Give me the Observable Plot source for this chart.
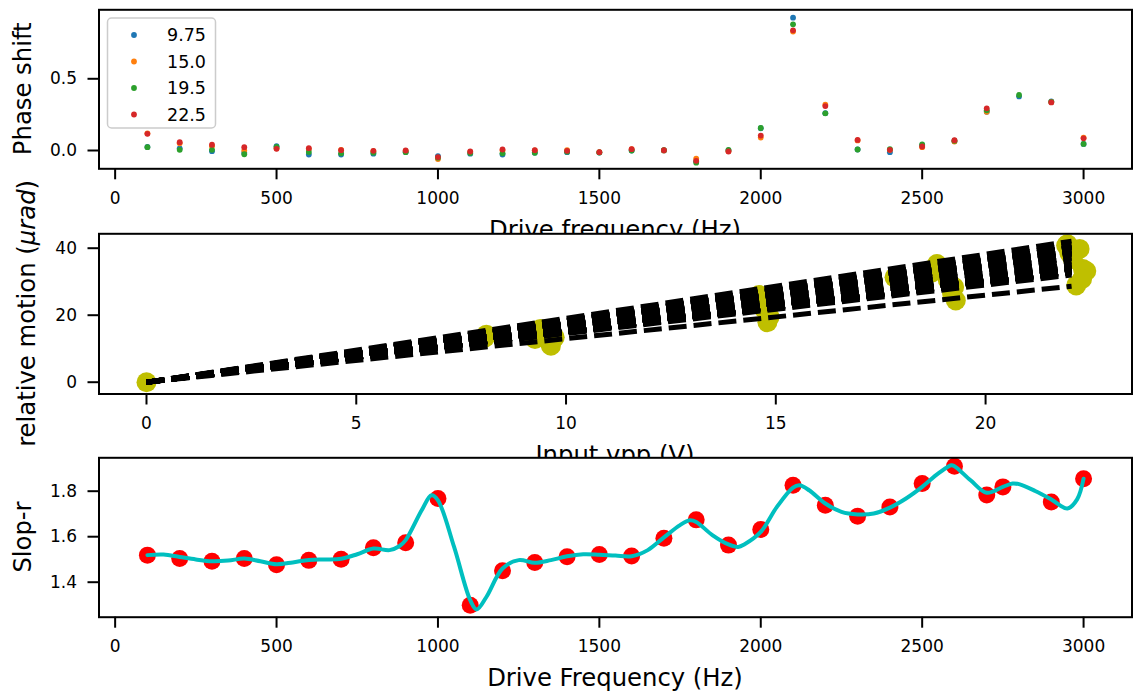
<!DOCTYPE html>
<html><head><meta charset="utf-8">
<script src="https://cdn.jsdelivr.net/npm/d3@7"></script>
<script src="https://cdn.jsdelivr.net/npm/@observablehq/plot@0.6"></script>
<style>
html,body{margin:0;padding:0;background:#fff;}
#chart{position:relative;width:1133px;height:694px;overflow:hidden;background:#fff;font-family:"DejaVu Sans";}
#chart svg{position:absolute;left:0;top:0;}
</style></head><body><div id="chart"></div>
<script>
// ---------- Panel 1: phase shift vs drive frequency ----------
const freq = [100,200,300,400,500,600,700,800,900,1000,1100,1200,1300,1400,1500,1600,1700,1800,1900,2000,2100,2200,2300,2400,2500,2600,2700,2800,2900,3000];
const seriesLabels = ["9.75","15.0","19.5","22.5"];
const phase975 = [0.025,0.015,-0.005,-0.015,0.030,-0.028,-0.028,-0.022,-0.010,-0.040,-0.022,-0.028,-0.015,-0.012,-0.014,0.000,0.000,-0.075,0.000,0.155,0.926,0.260,0.007,-0.012,0.035,0.065,0.270,0.377,0.343,0.046];
const phase150 = [0.120,0.050,0.030,0.000,0.015,0.010,0.005,-0.005,-0.003,-0.060,-0.010,0.000,0.000,0.002,-0.012,0.010,0.000,-0.056,-0.005,0.090,0.829,0.319,0.070,0.005,0.023,0.062,0.270,NaN,0.338,0.090];
const phase195 = [0.023,0.005,0.005,-0.026,0.025,-0.010,-0.020,-0.015,-0.012,-0.050,-0.018,-0.020,-0.016,-0.008,-0.014,0.000,0.002,-0.085,0.005,0.157,0.880,0.259,0.007,0.009,0.042,0.068,0.280,0.387,0.338,0.046];
const phase225 = [0.116,0.058,0.040,0.023,0.012,0.016,0.002,-0.002,0.000,-0.046,-0.007,0.007,0.002,-0.002,-0.012,0.009,0.002,-0.072,-0.007,0.104,0.838,0.310,0.074,0.005,0.028,0.072,0.294,NaN,0.335,0.085];
const xTicksFreq = [0,500,1000,1500,2000,2500,3000];
const yTicksPhase = [0,0.5];

// ---------- Panel 2: relative motion vs input vpp ----------
const vpp    = [0, 8.07, 8.10, 9.39, 9.26, 9.64, 9.73, 9.50, 9.45, 9.60, 14.55, 14.72, 14.80, 14.65, 14.60, 14.85, 17.83, 18.72, 18.84, 19.00, 19.25, 19.29, 19.10, 18.80, 19.20, 21.92, 22.24, 22.32, 22.16, 22.08, 22.40, 22.00, 21.95, 22.30];
const motion = [0, 13.4, 14.2, 15.9, 12.9, 10.9, 13.4, 14.5, 15.5, 12.0, 25.4, 21.9, 17.9, 23.8, 26.0, 19.5, 31.3, 32.8, 35.3, 33.5, 28.4, 24.4, 30.5, 34.2, 26.5, 40.8, 39.8, 33.8, 28.9, 36.8, 33.2, 38.5, 41.2, 30.8];
const fitRange = [0, 22.05];
const xTicksVpp = [0,5,10,15,20];
const yTicksMotion = [0,20,40];

// ---------- Panel 3: slope vs drive frequency ----------
const slopeFreq = [100,200,300,400,500,600,700,800,900,1000,1100,1200,1300,1400,1500,1600,1700,1800,1900,2000,2100,2200,2300,2400,2500,2600,2700,2750,2900,3000];
const slopeVal  = [1.519,1.504,1.492,1.504,1.477,1.496,1.501,1.551,1.573,1.768,1.299,1.450,1.487,1.512,1.522,1.515,1.593,1.674,1.563,1.632,1.826,1.738,1.690,1.731,1.834,1.910,1.783,1.819,1.753,1.855];
const curveFreq = [100,150,200,250,300,350,400,450,500,550,600,650,700,750,800,850,880,900,950,980,1000,1050,1100,1120,1150,1200,1250,1300,1350,1400,1450,1500,1550,1600,1650,1700,1750,1780,1800,1850,1900,1930,1950,2000,2050,2100,2120,2150,2200,2250,2300,2350,2400,2450,2500,2550,2590,2600,2650,2700,2750,2780,2800,2850,2900,2950,2980,3000];
const curveVal  = [1.519,1.522,1.511,1.500,1.492,1.495,1.504,1.492,1.479,1.487,1.498,1.500,1.503,1.523,1.548,1.541,1.558,1.585,1.717,1.782,1.760,1.555,1.321,1.280,1.335,1.460,1.497,1.485,1.497,1.514,1.523,1.521,1.517,1.514,1.541,1.597,1.651,1.672,1.665,1.607,1.566,1.555,1.567,1.621,1.731,1.816,1.826,1.804,1.746,1.709,1.698,1.702,1.728,1.768,1.819,1.878,1.914,1.910,1.848,1.793,1.819,1.834,1.831,1.801,1.764,1.724,1.764,1.855];
const yTicksSlope = [1.4,1.6,1.8];

// ---------- build tables ----------
const phaseSeries = [phase975, phase150, phase195, phase225];
const phaseData = phaseSeries.flatMap((arr, s) => freq.map((f, i) => ({f, v: arr[i], s: seriesLabels[s]})));
const motionData = vpp.map((x, i) => ({x, y: motion[i]}));
const fitData = slopeVal.map((k, i) => ({id: i, x1: fitRange[0], y1: k * fitRange[0], x2: fitRange[1], y2: k * fitRange[1]}));
const slopeData = slopeFreq.map((f, i) => ({f, v: slopeVal[i]}));
const curveData = curveFreq.map((f, i) => ({f, v: curveVal[i]}));

const W = 1133, H = 694, ML = 98.5, MR = 1.5;
const baseStyle = {background: "transparent", fontFamily: "DejaVu Sans", fontSize: "17px", color: "black", overflow: "visible"};
const axOpts = {tickSize: 11, strokeWidth: 2, label: null};
const intFmt = d3.format("d");

const frames = [[9.3,168.3],[233.3,393.5],[457.3,616.7]];

const p1 = Plot.plot({
  width: W, height: H, marginLeft: ML, marginRight: MR,
  marginTop: frames[0][0], marginBottom: H - frames[0][1],
  style: baseStyle,
  x: {domain: [-50, 3150]},
  y: {domain: [-0.1276, 0.981]},
  color: {domain: seriesLabels, range: ["#1f77b4","#ff7f0e","#2ca02c","#d62728"]},
  marks: [
    Plot.frame({fill: "white"}),
    Plot.dot(phaseData, {x: "f", y: "v", fill: "s", r: 2.9, stroke: "none"}),
    Plot.frame({stroke: "black", strokeWidth: 2}),
    Plot.axisX(xTicksFreq, {...axOpts, tickPadding: 12, tickFormat: intFmt}),
    Plot.axisY(yTicksPhase, {...axOpts, tickPadding: 11, tickFormat: d3.format(".1f")})
  ]
});

const p2 = Plot.plot({
  width: W, height: H, marginLeft: ML, marginRight: MR,
  marginTop: frames[1][0], marginBottom: H - frames[1][1],
  style: baseStyle,
  x: {domain: [-1.132, 23.49]},
  y: {domain: [-3.52, 44.3]},
  marks: [
    Plot.frame({fill: "white"}),
    Plot.dot(motionData, {x: "x", y: "y", fill: "#bfbf00", r: 10, stroke: "none"}),
    Plot.link(fitData, {x1: "x1", y1: "y1", x2: "x2", y2: "y2", stroke: "black", strokeWidth: 5, strokeDasharray: "18,7", strokeLinecap: "butt"}),
    Plot.frame({stroke: "black", strokeWidth: 2}),
    Plot.axisX(xTicksVpp, {...axOpts, tickPadding: 12, tickFormat: intFmt}),
    Plot.axisY(yTicksMotion, {...axOpts, tickPadding: 11, tickFormat: intFmt})
  ]
});

const p3 = Plot.plot({
  width: W, height: H, marginLeft: ML, marginRight: MR,
  marginTop: frames[2][0], marginBottom: H - frames[2][1],
  style: baseStyle,
  x: {domain: [-50, 3150]},
  y: {domain: [1.2462, 1.9468]},
  marks: [
    Plot.frame({fill: "white"}),
    Plot.dot(slopeData, {x: "f", y: "v", fill: "#ff0000", r: 8.5, stroke: "none"}),
    Plot.line(curveData, {x: "f", y: "v", stroke: "#00bfbf", strokeWidth: 4, curve: "catmull-rom"}),
    Plot.frame({stroke: "black", strokeWidth: 2}),
    Plot.axisX(xTicksFreq, {...axOpts, tickPadding: 12, tickFormat: intFmt}),
    Plot.axisY(yTicksSlope, {...axOpts, tickPadding: 11, tickFormat: d3.format(".1f")})
  ]
});

const chart = document.getElementById("chart");
chart.append(p1, p2, p3);

// ---------- axis labels ----------
const cx = (ML + (W - MR)) / 2;
function xLabel(svg, text, frame) {
  d3.select(svg).append("text").attr("x", cx).attr("y", frame[1] + 69.5)
    .attr("text-anchor", "middle").attr("font-size", 24.3).attr("fill", "black").text(text);
}
function yLabel(svg, frame, bx, build) {
  const t = d3.select(svg).append("text")
    .attr("transform", `translate(${bx},${(frame[0] + frame[1]) / 2}) rotate(-90)`)
    .attr("text-anchor", "middle").attr("font-size", 24.3).attr("fill", "black");
  build(t);
}
xLabel(p1, "Drive frequency (Hz)", frames[0]);
xLabel(p2, "Input vpp (V)", frames[1]);
xLabel(p3, "Drive Frequency (Hz)", frames[2]);
yLabel(p1, frames[0], 31, t => t.text("Phase shift"));
yLabel(p2, frames[1], 34.5, t => {
  t.append("tspan").text("relative motion (");
  t.append("tspan").attr("font-style", "italic").text("\u03bcrad");
  t.append("tspan").text(")");
});
yLabel(p3, frames[2], 31, t => t.text("Slop-r"));

// ---------- legend (panel 1) ----------
const color = p1.scale("color");
const lg = d3.select(p1).append("g");
lg.append("rect").attr("x", 107.5).attr("y", 18).attr("width", 108).attr("height", 110).attr("rx", 4)
  .attr("fill", "white").attr("fill-opacity", 0.8).attr("stroke", "#cccccc").attr("stroke-width", 1.5);
seriesLabels.forEach((lab, i) => {
  const cy = 35 + 26.5 * i;
  lg.append("circle").attr("cx", 134).attr("cy", cy).attr("r", 2.9).attr("fill", color.apply(lab));
  lg.append("text").attr("x", 206).attr("y", cy + 6.3).attr("text-anchor", "end").attr("font-size", 17.5).attr("fill", "black").text(lab);
});
</script></body></html>
